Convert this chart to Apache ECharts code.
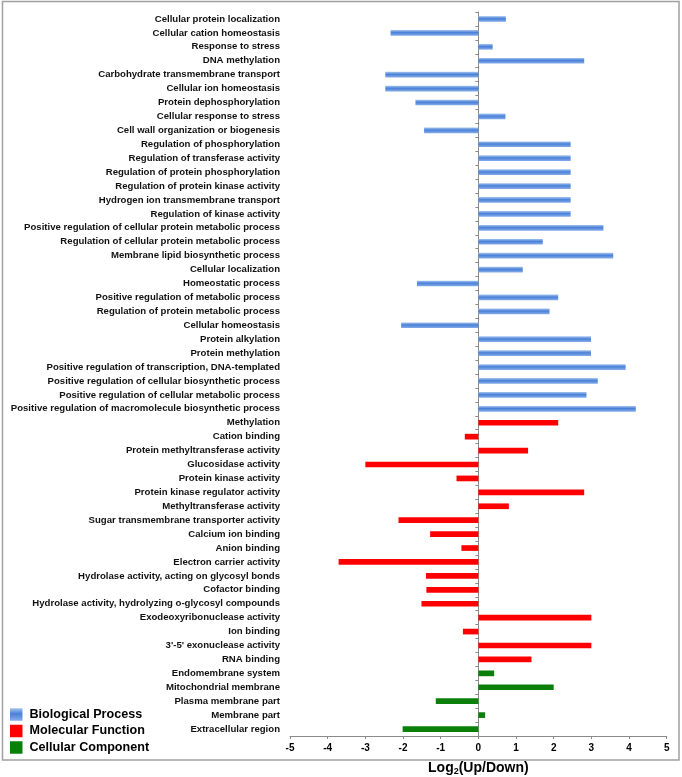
<!DOCTYPE html>
<html>
<head>
<meta charset="utf-8">
<script src="https://cdn.jsdelivr.net/npm/echarts@6/dist/echarts.min.js"></script>
<style>html,body{margin:0;padding:0;background:#fff;}#c{width:682px;height:777px;}</style>
</head>
<body>
<div id="c"></div>
<script>
var bpCategories = ["Cellular protein localization","Cellular cation homeostasis","Response to stress","DNA methylation","Carbohydrate transmembrane transport","Cellular ion homeostasis","Protein dephosphorylation","Cellular response to stress","Cell wall organization or biogenesis","Regulation of phosphorylation","Regulation of transferase activity","Regulation of protein phosphorylation","Regulation of protein kinase activity","Hydrogen ion transmembrane transport","Regulation of kinase activity","Positive regulation of cellular protein metabolic process","Regulation of cellular protein metabolic process","Membrane lipid biosynthetic process","Cellular localization","Homeostatic process","Positive regulation of metabolic process","Regulation of protein metabolic process","Cellular homeostasis","Protein alkylation","Protein methylation","Positive regulation of transcription, DNA-templated","Positive regulation of cellular biosynthetic process","Positive regulation of cellular metabolic process","Positive regulation of macromolecule biosynthetic process"];
var bpValues = [0.73,-2.33,0.38,2.81,-2.47,-2.47,-1.67,0.72,-1.44,2.45,2.45,2.45,2.45,2.45,2.45,3.32,1.71,3.58,1.18,-1.63,2.12,1.89,-2.05,2.99,2.99,3.91,3.17,2.87,4.18];
var mfCategories = ["Methylation","Cation binding","Protein methyltransferase activity","Glucosidase activity","Protein kinase activity","Protein kinase regulator activity","Methyltransferase activity","Sugar transmembrane transporter activity","Calcium ion binding","Anion binding","Electron carrier activity","Hydrolase activity, acting on glycosyl bonds","Cofactor binding","Hydrolase activity, hydrolyzing o-glycosyl compounds","Exodeoxyribonuclease activity","Ion binding","3'-5' exonuclease activity","RNA binding"];
var mfValues = [2.12,-0.36,1.32,-3.0,-0.58,2.81,0.81,-2.12,-1.28,-0.45,-3.71,-1.39,-1.38,-1.51,3.0,-0.41,3.0,1.41];
var ccCategories = ["Endomembrane system","Mitochondrial membrane","Plasma membrane part","Membrane part","Extracellular region"];
var ccValues = [0.42,2.0,-1.13,0.18,-2.01];
var xTicks = [-5,-4,-3,-2,-1,0,1,2,3,4,5];
var groupNames = ["Biological Process","Molecular Function","Cellular Component"];

var categories = bpCategories.concat(mfCategories, ccCategories);
function pad(vals, before, after) {
  var out = [];
  for (var i = 0; i < before; i++) out.push(null);
  out = out.concat(vals);
  for (var j = 0; j < after; j++) out.push(null);
  return out;
}
var nB = bpValues.length, nM = mfValues.length, nC = ccValues.length;
var blueGrad = new echarts.graphic.LinearGradient(0, 0, 0, 1, [
  {offset: 0, color: '#a4c4f0'}, {offset: 0.45, color: '#4a80d8'}, {offset: 1, color: '#86ade8'}
]);

var gridLeft = 290, gridRight = 15.3, chartW = 682;
var xMin = xTicks[0], xMax = xTicks[xTicks.length - 1];
var plotW = chartW - gridLeft - gridRight;
var zeroOffset = -plotW * (0 - xMin) / (xMax - xMin);

var chart = echarts.init(document.getElementById('c'), null, {renderer: 'canvas'});
var font = 'Liberation Sans, Arial, sans-serif';
chart.setOption({
  animation: false,
  grid: {left: gridLeft, right: gridRight, top: 12, bottom: 41, outerBoundsMode: 'none', containLabel: false},
  graphic: [{
    type: 'rect', z: -10, silent: true,
    shape: {x: 2.5, y: 1.5, width: 676.5, height: 758.5},
    style: {fill: 'none', stroke: '#a0a0a0', lineWidth: 1.5}
  }],
  legend: {
    orient: 'vertical', left: 10, top: 708, padding: 0, itemWidth: 12.5, itemHeight: 12.5, itemGap: 3.5,
    icon: 'rect',
    textStyle: {fontFamily: font, fontWeight: 'bold', fontSize: 12.6, color: '#000', padding: [0,0,0,2]},
    data: groupNames
  },
  xAxis: {
    type: 'value', min: xMin, max: xMax, interval: 1,
    axisLine: {show: true, lineStyle: {color: '#8a8a8a', width: 1}},
    axisTick: {show: true, length: 3, lineStyle: {color: '#8a8a8a'}},
    splitLine: {show: false},
    axisLabel: {fontFamily: font, fontWeight: 'bold', fontSize: 10, color: '#000', margin: 7},
    name: '{a|Log}{s|2}{a|(Up/Down)}',
    nameLocation: 'middle', nameGap: 25,
    nameTextStyle: {
      backgroundColor: '#fff', padding: [0, 2, 0, 2],
      rich: {
        a: {fontFamily: font, fontWeight: 'bold', fontSize: 14, color: '#000'},
        s: {fontFamily: font, fontWeight: 'bold', fontSize: 9, color: '#000', verticalAlign: 'bottom', padding: [6,0,0,0]}
      }
    }
  },
  yAxis: [{
    type: 'category', inverse: true, data: categories, position: 'left',
    axisLine: {show: false}, axisTick: {show: false},
    axisLabel: {fontFamily: font, fontWeight: 'bold', fontSize: 9.6, color: '#111', margin: 10, interval: 0}
  }, {
    type: 'category', inverse: true, data: categories, position: 'left', offset: zeroOffset,
    axisLine: {show: true, onZero: false, lineStyle: {color: '#8a8a8a', width: 1}},
    axisTick: {show: true, length: 3, lineStyle: {color: '#8a8a8a'}, interval: 0},
    axisLabel: {show: false}
  }],
  series: [{
    name: groupNames[0], type: 'bar', stack: 'all', barWidth: 5.7, yAxisIndex: 0,
    itemStyle: {color: blueGrad}, data: pad(bpValues, 0, nM + nC)
  }, {
    name: groupNames[1], type: 'bar', stack: 'all', barWidth: 5.7, yAxisIndex: 0,
    itemStyle: {color: '#ff0000'}, data: pad(mfValues, nB, nC)
  }, {
    name: groupNames[2], type: 'bar', stack: 'all', barWidth: 5.7, yAxisIndex: 0,
    itemStyle: {color: '#0a800a'}, data: pad(ccValues, nB + nM, 0)
  }]
});
</script>
</body>
</html>
